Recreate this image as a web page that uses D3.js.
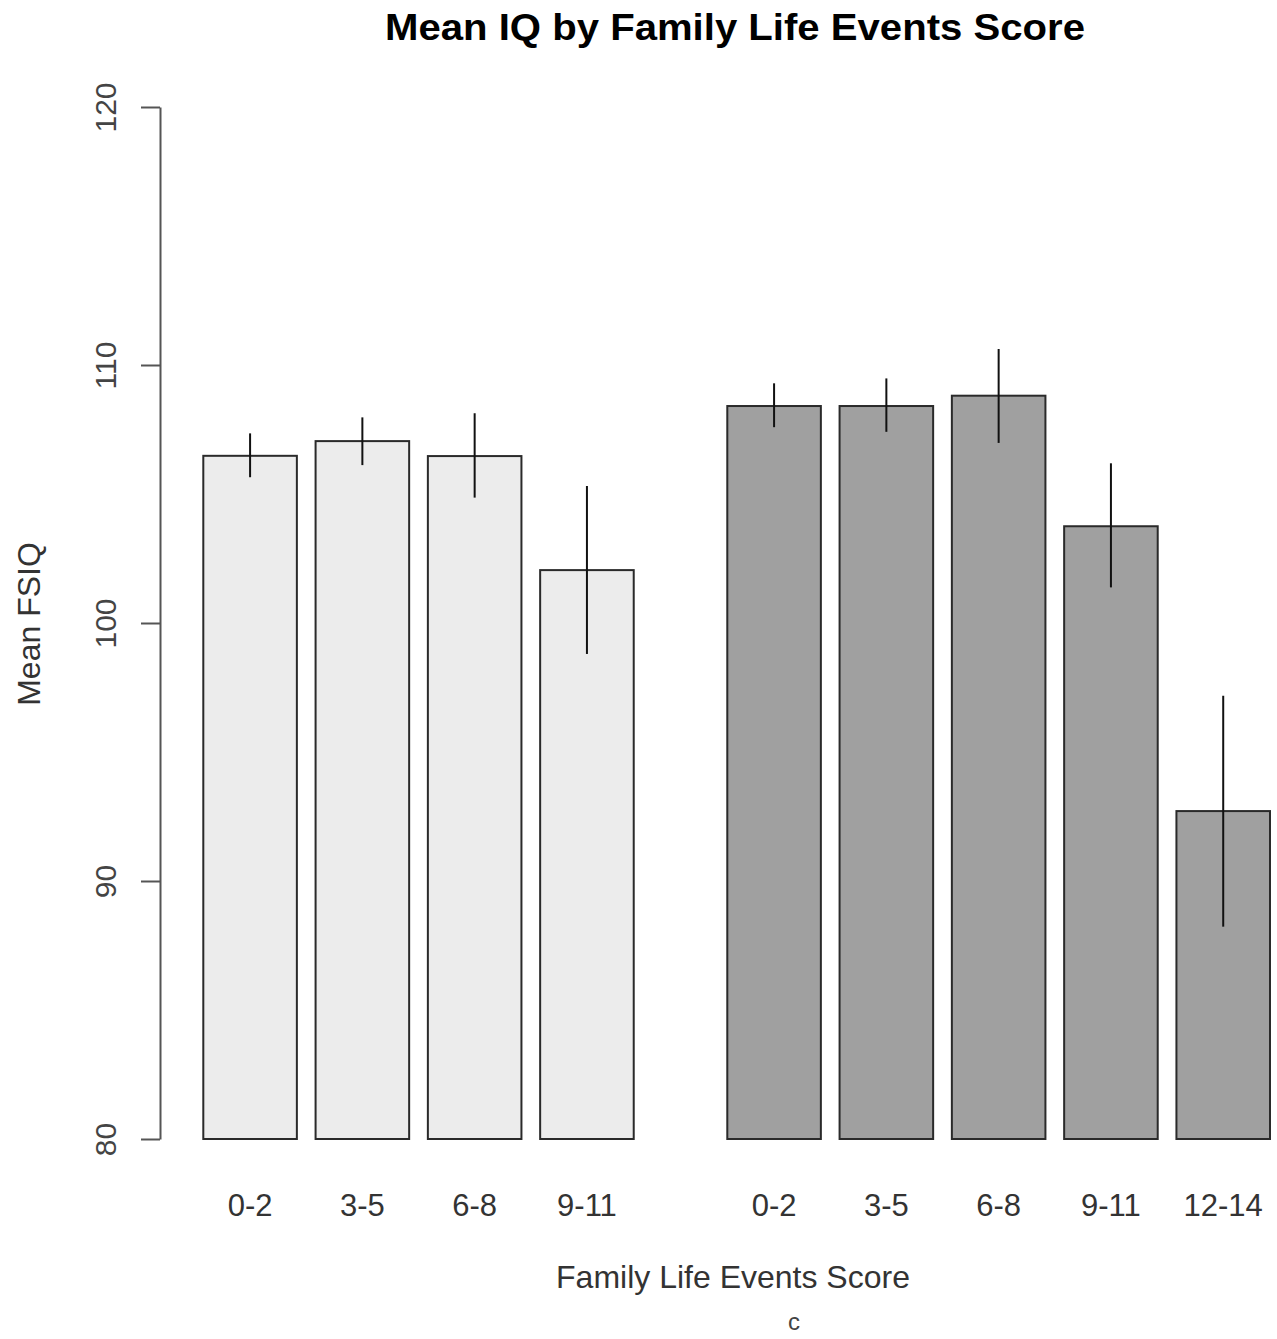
<!DOCTYPE html>
<html>
<head>
<meta charset="utf-8">
<script src="https://cdn.jsdelivr.net/npm/d3@7"></script>
<style>
  html, body { margin: 0; padding: 0; background: #ffffff; }
  svg { display: block; font-family: "Liberation Sans", Arial, Helvetica, sans-serif; }
</style>
</head>
<body>
<svg id="chart" width="1277" height="1339"></svg>
<script>
// Score bands, per group
const groupNames = ["A", "B"];
const groupCategories = [
  ["0-2", "3-5", "6-8", "9-11"],
  ["0-2", "3-5", "6-8", "9-11", "12-14"]
];
// Mean FSIQ per band
const meanA = [106.48, 107.05, 106.47, 102.05];
const meanB = [108.41, 108.41, 108.81, 103.75, 92.71];
// Error-bar ends (lower / upper)
const lowerA = [105.65, 106.12, 104.86, 98.80];
const upperA = [107.35, 107.97, 108.13, 105.31];
const lowerB = [107.59, 107.41, 106.98, 101.38, 88.23];
const upperB = [109.29, 109.48, 110.62, 106.19, 97.18];
const yTicks = [80, 90, 100, 110, 120];
const groupFills = ["#ececec", "#a0a0a0"];

const svg = d3.select("#chart");

// Flatten bars into slots: bar width 1, 0.2 between bars, 1 between groups
const bars = [];
let slot = 0.2;
[[meanA, lowerA, upperA], [meanB, lowerB, upperB]].forEach(([m, lo, hi], g) => {
  if (g > 0) slot += 0.8;
  m.forEach((v, i) => {
    bars.push({ group: g, label: groupCategories[g][i], value: v, lo: lo[i], hi: hi[i], x0: slot });
    slot += 1.2;
  });
});

const x = d3.scaleLinear().domain([0.2, 11.6]).range([203.3, 1270]);
const y = d3.scaleLinear().domain([80, 120]).range([1139, 107]);

// Bars
svg.append("g").selectAll("rect").data(bars).join("rect")
  .attr("x", d => x(d.x0))
  .attr("width", d => x(d.x0 + 1) - x(d.x0))
  .attr("y", d => y(d.value))
  .attr("height", d => y(80) - y(d.value))
  .attr("fill", d => groupFills[d.group])
  .attr("stroke", "#2a2a2a")
  .attr("stroke-width", 2);

// Error bars
svg.append("g").selectAll("line").data(bars).join("line")
  .attr("x1", d => x(d.x0 + 0.5))
  .attr("x2", d => x(d.x0 + 0.5))
  .attr("y1", d => y(d.hi))
  .attr("y2", d => y(d.lo))
  .attr("stroke", "#111")
  .attr("stroke-width", 2);

// Y axis
const yAxis = svg.append("g")
  .attr("transform", "translate(160,0)")
  .call(d3.axisLeft(y).tickValues(yTicks).tickSize(19).tickSizeOuter(0).tickPadding(8));
yAxis.select(".domain").attr("stroke", "#555").attr("stroke-width", 2);
yAxis.selectAll(".tick line").attr("stroke", "#555").attr("stroke-width", 2);
yAxis.selectAll(".tick text")
  .attr("font-size", 30)
  .attr("fill", "#444")
  .attr("x", null).attr("dy", null)
  .attr("text-anchor", "middle")
  .attr("transform", "translate(-44,0) rotate(-90)");

// Category labels under the bars
svg.append("g").selectAll("text").data(bars).join("text")
  .attr("x", d => x(d.x0 + 0.5))
  .attr("y", 1216)
  .attr("text-anchor", "middle")
  .attr("font-size", 31)
  .attr("fill", "#333")
  .text(d => d.label);

// Title
svg.append("text")
  .attr("x", 735).attr("y", 40)
  .attr("text-anchor", "middle")
  .attr("font-size", 37)
  .attr("font-weight", "bold")
  .attr("fill", "#000")
  .attr("textLength", 700)
  .attr("lengthAdjust", "spacingAndGlyphs")
  .text("Mean IQ by Family Life Events Score");

// Axis titles
svg.append("text")
  .attr("x", 733).attr("y", 1288)
  .attr("text-anchor", "middle")
  .attr("font-size", 32)
  .attr("fill", "#333")
  .text("Family Life Events Score");

svg.append("text")
  .attr("transform", "translate(40,624) rotate(-90)")
  .attr("text-anchor", "middle")
  .attr("font-size", 32)
  .attr("fill", "#333")
  .text("Mean FSIQ");

svg.append("text")
  .attr("x", 794).attr("y", 1330)
  .attr("text-anchor", "middle")
  .attr("font-size", 24)
  .attr("fill", "#444")
  .text("c");
</script>
</body>
</html>
